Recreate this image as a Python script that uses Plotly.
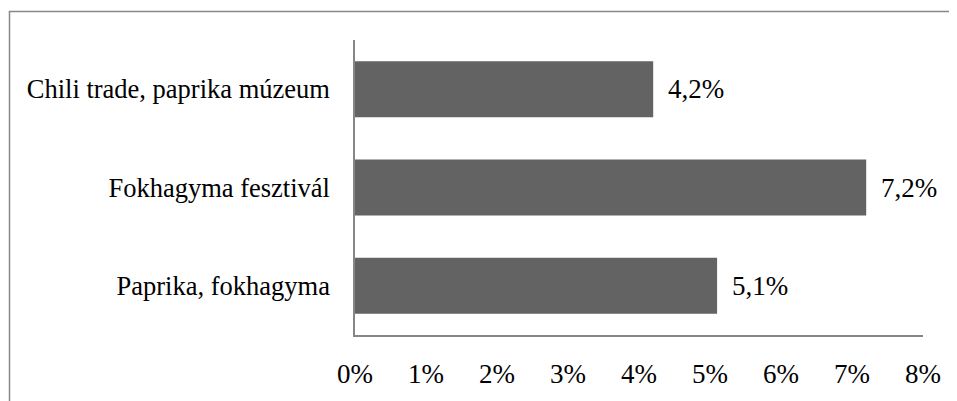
import plotly.graph_objects as go

categories = ["Chili trade, paprika múzeum", "Fokhagyma fesztivál", "Paprika, fokhagyma"]
values = [4.2, 7.2, 5.1]
value_labels = ["4,2%", "7,2%", "5,1%"]
tick_vals = [0, 1, 2, 3, 4, 5, 6, 7, 8]
tick_text = ["0%", "1%", "2%", "3%", "4%", "5%", "6%", "7%", "8%"]

FONT = "Liberation Serif, Times New Roman, serif"
# page body has an 8px margin, so the figure is offset by 8px in the window
W, H = 949, 393
ml, mr, mt, mb = 347, 34, 32, 56

fig = go.Figure()
fig.add_trace(go.Bar(
    x=values, y=categories, orientation="h",
    marker=dict(color="#636363", line=dict(width=0)),
    hoverinfo="skip",
))

annotations = []
for v, c, t in zip(values, categories, value_labels):
    annotations.append(dict(x=v, y=c, xref="x", yref="y", text=t, showarrow=False,
                            xanchor="left", yanchor="middle", xshift=13,
                            font=dict(family=FONT, size=27, color="#000000")))

pw = W - ml - mr
ph = H - mt - mb
frame_x0 = (1.5 - ml) / pw
frame_y1 = (H - mb - 2.5) / ph

fig.update_layout(
    width=W, height=H,
    margin=dict(l=ml, r=mr, t=mt, b=mb, pad=0),
    paper_bgcolor="white", plot_bgcolor="white",
    bargap=0.43,
    showlegend=False,
    annotations=annotations,
    shapes=[dict(type="rect", xref="paper", yref="paper",
                 x0=frame_x0, x1=3, y0=-3, y1=frame_y1,
                 line=dict(color="#888888", width=1.5), fillcolor="rgba(0,0,0,0)", layer="below")],
    font=dict(family=FONT, size=27, color="#000000"),
)
fig.update_xaxes(range=[0, 8], tickvals=tick_vals, ticktext=tick_text,
                 showgrid=False, zeroline=False, showline=True, linecolor="#868686", linewidth=1.5,
                 ticks="", ticklabelstandoff=14, tickfont=dict(family=FONT, size=27, color="#000000"))
fig.update_yaxes(categoryorder="array", categoryarray=categories[::-1],
                 showgrid=False, zeroline=False, showline=True, linecolor="#868686", linewidth=1.5,
                 ticks="", ticklabelstandoff=18, tickfont=dict(family=FONT, size=26.5, color="#000000"))

fig.write_html("out.html")
